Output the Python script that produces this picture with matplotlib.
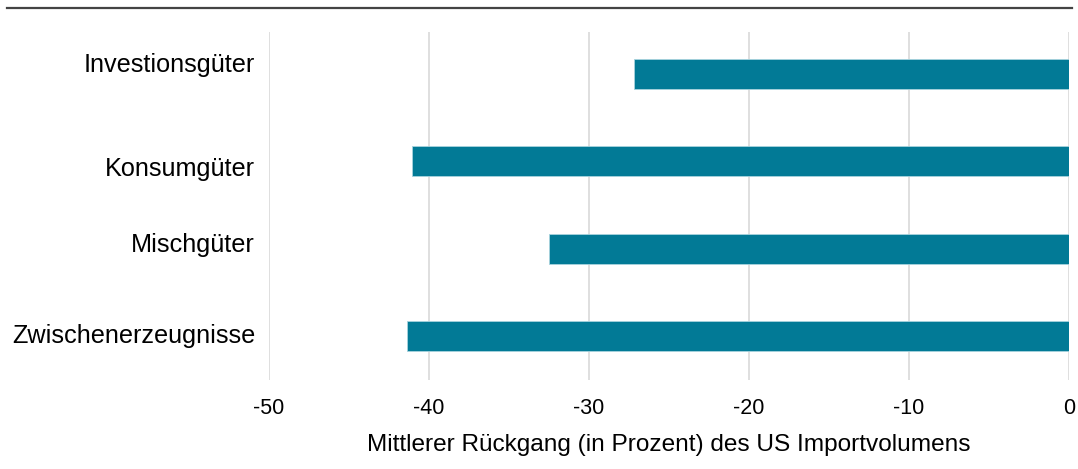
import matplotlib
matplotlib.use("Agg")
import matplotlib.pyplot as plt
from matplotlib.lines import Line2D
from matplotlib.transforms import ScaledTranslation

categories = ["Investionsgüter", "Konsumgüter", "Mischgüter", "Zwischenerzeugnisse"]
values = [-27.2, -41.05, -32.5, -41.4]
xticks = [-50, -40, -30, -20, -10, 0]
xlabel = "Mittlerer Rückgang (in Prozent) des US Importvolumens"

plt.rcParams['font.family'] = ['Liberation Sans', 'DejaVu Sans']

fig = plt.figure(figsize=(10.78, 4.69), dpi=100)
ax = fig.add_axes([269/1078, 1-380/469, 800/1078, 348/469])

ypos = list(range(len(categories)))
ax.barh(ypos, values, height=0.345, color="#027a96", edgecolor="#a8d3de", linewidth=0.6, zorder=3)
ax.set_ylim(3.5, -0.48)
ax.set_xlim(-50, 0)
ax.set_xticks(xticks)
ax.set_xticklabels([str(t) for t in xticks], fontsize=15.5)
ax.set_yticks(ypos)
ax.set_yticklabels(categories, fontsize=18.2)
ax.tick_params(axis='both', length=0)
ax.tick_params(axis='y', pad=10)
ax.tick_params(axis='x', pad=13)
ax.grid(axis='x', color="#d9d9d9", linewidth=1.2, zorder=0)
for s in ax.spines.values():
    s.set_visible(False)
ax.set_xlabel(xlabel, fontsize=17.6, labelpad=11)

# small vertical offsets of the category labels (pixels, up positive)
offsets_px = [11, -5, 6, 3]
for lab, off in zip(ax.get_yticklabels(), offsets_px):
    lab.set_transform(lab.get_transform() + ScaledTranslation(0, off/100, fig.dpi_scale_trans))

fig.add_artist(Line2D([7/1078, 1072/1078], [1-8.5/469, 1-8.5/469], color="#444444", linewidth=1.6))

fig.savefig("out.png", dpi=100)
